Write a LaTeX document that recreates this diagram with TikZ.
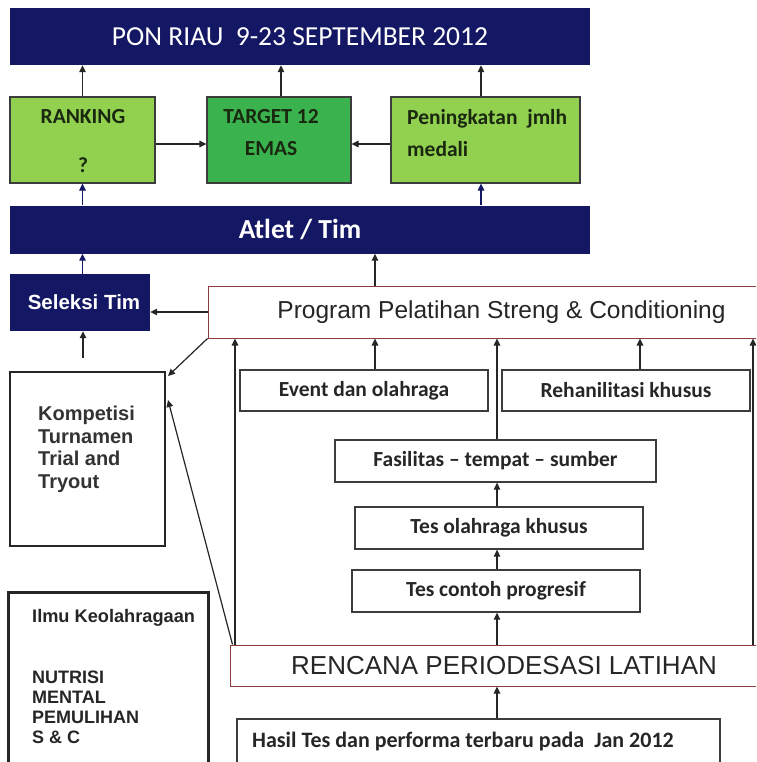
\documentclass[tikz,border=0pt]{standalone}
\usepackage{fontspec}
\setmainfont{Carlito}
\newfontfamily\ari{Liberation Sans}
\usetikzlibrary{arrows.meta}
\definecolor{navy}{RGB}{20,24,100}
\definecolor{lgreen}{RGB}{146,208,80}
\definecolor{dgreen}{RGB}{58,178,78}
\definecolor{redb}{RGB}{140,60,60}
\definecolor{gtext}{RGB}{25,40,15}
\definecolor{bord}{RGB}{60,60,60}
\begin{document}
\begin{tikzpicture}[x=1pt,y=-1pt,
  navybox/.style={fill=navy, draw=none, rectangle, inner sep=0pt, text=white},
  greenbox/.style={fill=lgreen, draw=bord, line width=1.2pt, rectangle, inner sep=0pt},
  plainbox/.style={fill=white, draw=bord, line width=1.3pt, rectangle, inner sep=0pt,
     font=\fontsize{21.5}{24}\selectfont\bfseries, text=black!85},
  redbox/.style={fill=white, draw=redb, line width=1pt, rectangle, inner sep=0pt},
  thickbox/.style={fill=white, draw=black!85, line width=2.8pt, rectangle, inner sep=0pt},
  arr/.style={-{Triangle[length=7pt,width=6.5pt]}, line width=1.2pt, black!85},
  narr/.style={arr, navy},
  gtxt/.style={inner sep=0pt, text=gtext, font=\fontsize{21}{24}\selectfont\bfseries}
]
\useasboundingbox (0,0) rectangle (756,762);
\clip (0,0) rectangle (756,762);
\fill[white] (0,0) rectangle (756,762);

% top banner
\node[navybox, minimum width=580pt, minimum height=57pt, font=\fontsize{27.5}{30}\selectfont] (pon) at (300,36.5) {PON RIAU\ \ 9-23 SEPTEMBER 2012};

% green boxes
\node[greenbox, minimum width=145pt, minimum height=86pt] (rank) at (82.5,140) {};
\node[greenbox, fill=dgreen, minimum width=144pt, minimum height=86pt] (target) at (279,140) {};
\node[greenbox, minimum width=189pt, minimum height=86pt] (peng) at (485.5,140) {};
\node[gtxt, anchor=north, align=center, font=\fontsize{21.5}{49}\selectfont\bfseries] (rankt) at (83,109) {RANKING\\?};
\node[gtxt, anchor=north, align=center, font=\fontsize{21.5}{32}\selectfont\bfseries] (targett) at (271,109) {TARGET 12\\EMAS};
\node[gtxt, anchor=north west, align=left, font=\fontsize{21.5}{32}\selectfont\bfseries] (pengt) at (407,109) {Peningkatan\ \ jmlh\\medali};

% atlet banner
\node[navybox, minimum width=580pt, minimum height=48pt, font=\fontsize{27.5}{30}\selectfont\bfseries] (atlet) at (300,229.5) {Atlet / Tim};

% seleksi
\node[navybox, minimum width=140pt, minimum height=57pt, font=\ari\fontsize{20.5}{22}\selectfont\bfseries] (sel) at (80,302.5) {\hspace{8pt}Seleksi Tim};

% program
\node[redbox, minimum width=587pt, minimum height=52pt, font=\ari\fontsize{24.5}{28}\selectfont, text=black!85] (prog) at (501.5,312) {Program Pelatihan Streng \& Conditioning};

% kompetisi
\node[thickbox, minimum width=155pt, minimum height=174pt] (komp) at (87.5,459) {};
\node[inner sep=0pt, anchor=north west, align=left, text=black!80, font=\ari\fontsize{20}{22.5}\selectfont\bfseries] (kompt) at (38,406) {Kompetisi\\Turnamen\\Trial and\\Tryout};

% ilmu
\node[thickbox, line width=3pt, minimum width=200pt, minimum height=183pt] (ilmu) at (108,683.5) {};
\node[inner sep=0pt, anchor=north west, text=black!85, font=\ari\fontsize{18.2}{20}\selectfont\bfseries] (ilmut) at (32,609) {Ilmu Keolahragaan};
\node[inner sep=0pt, anchor=north west, align=left, text=black!85, font=\ari\fontsize{18}{19.8}\selectfont\bfseries] (ilmul) at (32,671) {NUTRISI\\MENTAL\\PEMULIHAN\\S \& C};

% small boxes
\node[plainbox, minimum width=248pt, minimum height=41pt] (evt) at (364,390.5) {Event dan olahraga};
\node[plainbox, minimum width=248pt, minimum height=41pt] (rehab) at (626,390.5) {Rehanilitasi khusus};
\node[plainbox, minimum width=321pt, minimum height=42pt] (fas) at (495.5,461) {Fasilitas -- tempat -- sumber};
\node[plainbox, minimum width=288pt, minimum height=42pt] (tesok) at (499,528) {Tes olahraga khusus};
\node[plainbox, minimum width=288pt, minimum height=42pt] (tescp) at (496,591) {Tes contoh progresif};

% rencana
\node[redbox, minimum width=548pt, minimum height=41pt, font=\ari\fontsize{26}{30}\selectfont, text=black!85] (renc) at (504,665.5) {RENCANA PERIODESASI LATIHAN};

% hasil
\node[plainbox, minimum width=483pt, minimum height=50pt] (hasil) at (478.5,744) {};
\node[gtxt, text=black!85, anchor=west, font=\fontsize{22}{24}\selectfont\bfseries] (hasilt) at (252,742) {Hasil Tes dan performa terbaru pada\ \ Jan 2012};

% helper coordinates
\coordinate (c235) at (235,0);
\coordinate (c375) at (375,0);
\coordinate (c497) at (497,0);
\coordinate (c640) at (640,0);
\coordinate (c753) at (753,0);
\coordinate (kin) at (83,358);
\coordinate (kr) at (168,400);
\coordinate (kn) at (168,376);

% arrows top
\draw[arr] (rank.north) -- (rank.north |- pon.south);
\draw[arr] ([xshift=2pt]target.north) -- ([xshift=2pt]target.north |- pon.south);
\draw[arr] ([xshift=-4.5pt]peng.north) -- ([xshift=-4.5pt]peng.north |- pon.south);
\draw[arr] ([yshift=-4pt]rank.east) -- ([yshift=-4pt]target.west);
\draw[arr] ([yshift=-4pt]peng.west) -- ([yshift=-4pt]target.east);
\draw[narr] (rank.south |- atlet.north) -- (rank.south);
\draw[narr] ([xshift=-4.5pt]peng.south |- atlet.north) -- ([xshift=-4.5pt]peng.south);
\draw[narr] (rank.south |- sel.north) -- (rank.south |- atlet.south);
\draw[arr] (prog.north -| c375) -- (atlet.south -| c375);
\draw[arr] (prog.west) -- (prog.west -| sel.east);
\draw[arr] (kin) -- (kin |- sel.south);
\draw[arr] (prog.south west) -- (kn);
\draw[arr] ([xshift=3pt]renc.north west) -- (kr);
\draw[arr] (renc.north -| c235) -- (prog.south -| c235);
\draw[arr] (renc.north -| c753) -- (prog.south -| c753);
\draw[arr] (evt.north -| c375) -- (prog.south -| c375);
\draw[arr] (rehab.north -| c640) -- (prog.south -| c640);
\draw[arr] (fas.north -| c497) -- (prog.south -| c497);
\draw[arr] (tesok.north -| c497) -- (fas.south -| c497);
\draw[arr] (tescp.north -| c497) -- (tesok.south -| c497);
\draw[arr] (renc.north -| c497) -- (tescp.south -| c497);
\draw[arr] (hasil.north -| c497) -- (renc.south -| c497);
\end{tikzpicture}
\end{document}
